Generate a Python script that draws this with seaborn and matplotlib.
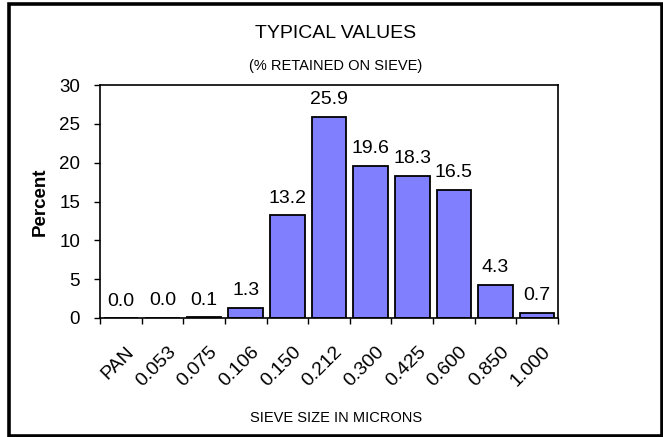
import matplotlib
matplotlib.use("Agg")
import matplotlib.pyplot as plt
import matplotlib.transforms as mtransforms
import seaborn as sns
import pandas as pd

categories = ["PAN", "0.053", "0.075", "0.106", "0.150", "0.212", "0.300",
              "0.425", "0.600", "0.850", "1.000"]
values = [0.0, 0.04, 0.1, 1.3, 13.2, 25.9, 19.6, 18.3, 16.5, 4.3, 0.7]
yticks = [0, 5, 10, 15, 20, 25, 30]

sns.set_theme(style="white", rc={"text.color": "black", "axes.labelcolor": "black",
                                 "xtick.color": "black", "ytick.color": "black"})
plt.rcParams['font.family'] = ['Liberation Sans', 'DejaVu Sans']

df = pd.DataFrame({"size": categories, "pct": values})

fig = plt.figure(figsize=(6.63, 4.37), dpi=100)
ax = fig.add_axes([100/663, 1-318/437, 458/663, (318-85)/437])

sns.barplot(data=df, x="size", y="pct", ax=ax, color="#8080FF", saturation=1,
            width=0.83, edgecolor="black", linewidth=1.3, order=categories)

for i, v in enumerate(values):
    ax.annotate(f"{v:.1f}", (i, v), xytext=(0, 9), textcoords="offset points",
                ha="center", va="baseline", fontsize=14)

ax.set_xlim(-0.5, len(categories) - 0.5)
ax.set_ylim(0, 30)
ax.set_yticks(yticks)
ax.set_yticklabels([str(t) for t in yticks], fontsize=13.5)
ax.set_xticks(range(len(categories)))
ax.set_xticklabels(categories, rotation=45, ha="right", rotation_mode="anchor", fontsize=14)
ax.tick_params(axis="x", length=0, pad=18)
offset = mtransforms.ScaledTranslation(5/100, 0, fig.dpi_scale_trans)
for lab in ax.get_xticklabels():
    lab.set_transform(lab.get_transform() + offset)
ax.set_xticks([i - 0.5 for i in range(len(categories) + 1)], minor=True)
ax.tick_params(axis="x", which="minor", length=4, width=1, color="black", direction="out", bottom=True)
ax.tick_params(axis="y", length=4.3, width=1, color="black", direction="out", left=True, pad=10)
ax.set_xlabel("")
ax.set_ylabel("")
for s in ax.spines.values():
    s.set_color("black")
    s.set_linewidth(1.2)

fig.text(40.5/663, 1-202/437, "Percent", rotation=90, ha="center", va="center",
         fontsize=13.5, fontweight="bold")
fig.text(336/663, 1-38.3/437, "TYPICAL VALUES", ha="center", va="baseline", fontsize=14)
fig.text(336/663, 1-70/437, "(% RETAINED ON SIEVE)", ha="center", va="baseline", fontsize=10.5)
fig.text(336/663, 1-421.5/437, "SIEVE SIZE IN MICRONS", ha="center", va="baseline", fontsize=10.5)

border = plt.Rectangle((9/663, 1-436/437), 652.5/663, 432.5/437, transform=fig.transFigure,
                       fill=False, edgecolor="black", linewidth=2.6)
fig.patches.append(border)

fig.savefig("out.png", dpi=100)
